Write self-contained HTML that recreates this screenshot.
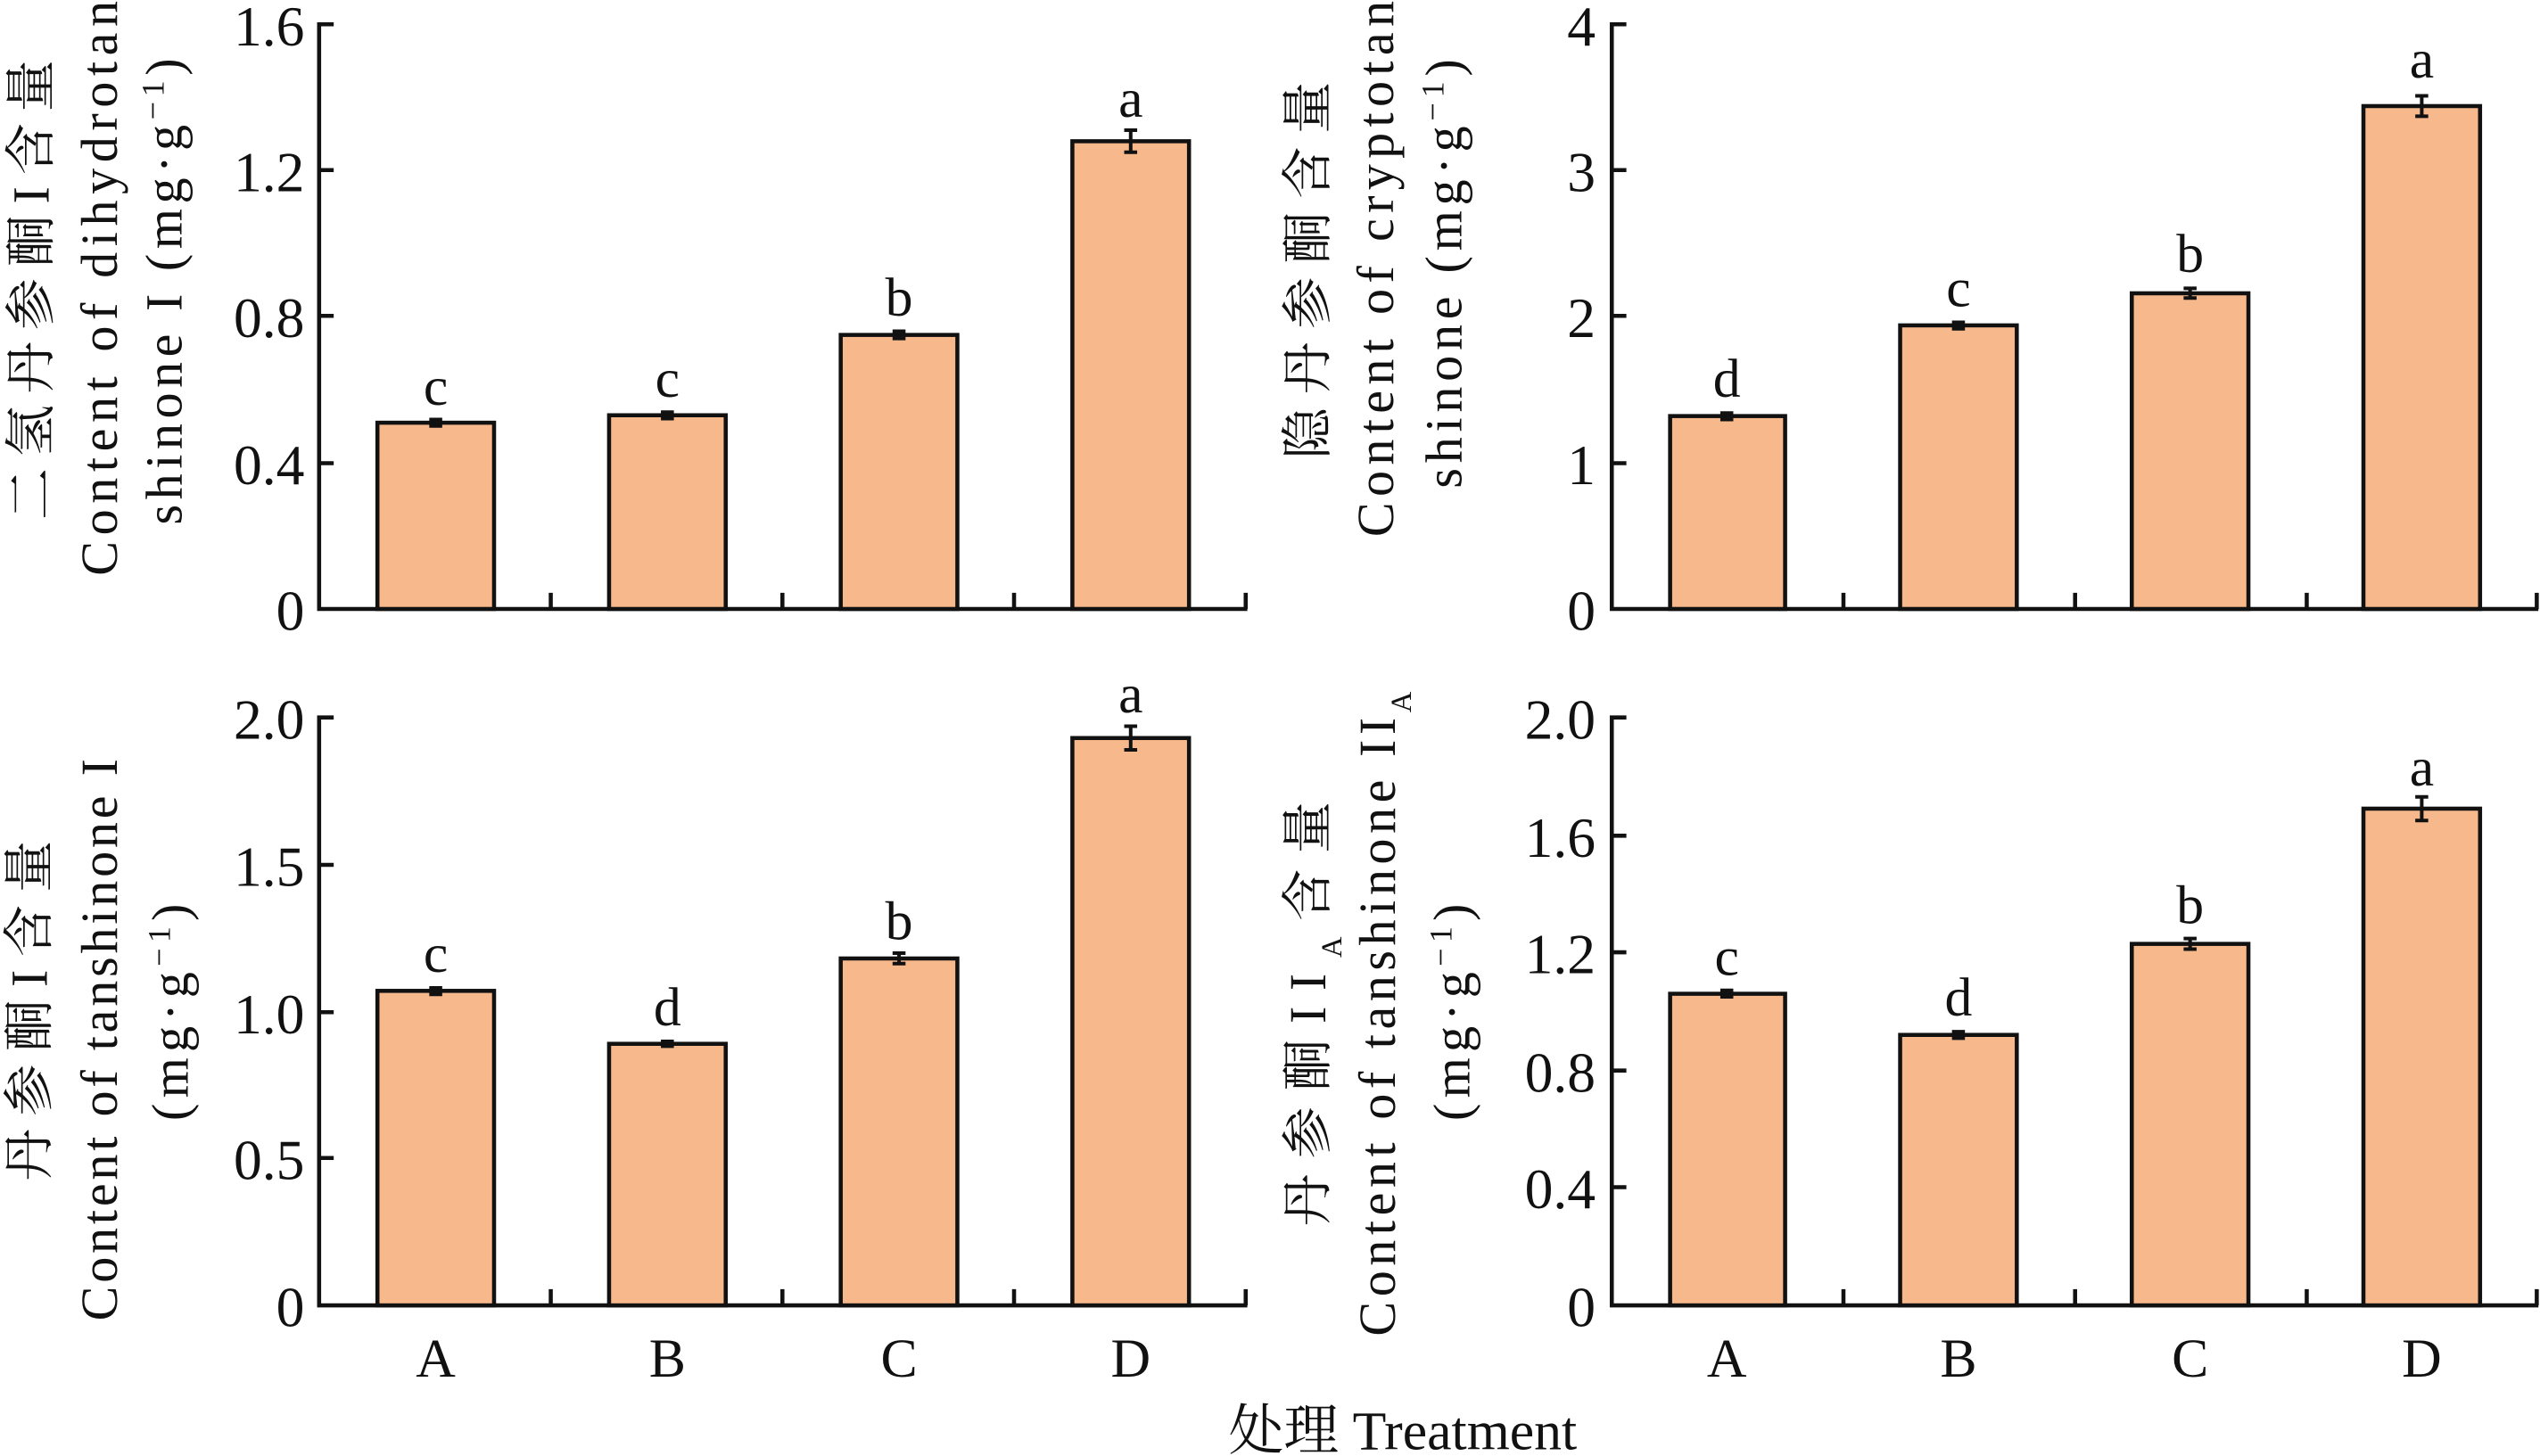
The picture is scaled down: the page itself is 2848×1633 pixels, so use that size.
<!DOCTYPE html>
<html><head><meta charset="utf-8"><style>html,body{margin:0;padding:0;background:#fff}svg{display:block}</style></head>
<body>
<svg width="2848" height="1633" viewBox="0 0 1568 899" preserveAspectRatio="none" xmlns="http://www.w3.org/2000/svg" font-family="'Liberation Serif','Noto Serif CJK SC',serif" fill="#111">
<g stroke="#111" stroke-width="2.5" fill="none">
<path d="M206 15H197V376H770M197 105H206M197 195H206M197 286H206M340 376V366M483 376V366M626 376V366M769 376V366"/>
<path d="M1004 15H995V376H1567M995 105H1004M995 195H1004M995 286H1004M1138 376V366M1281 376V366M1424 376V366M1566 376V366"/>
<path d="M206 443H197V806H770M197 534H206M197 625H206M197 715H206M340 806V796M483 806V796M626 806V796M769 806V796"/>
<path d="M1004 443H995V806H1567M995 516H1004M995 588H1004M995 661H1004M995 733H1004M1138 806V796M1281 806V796M1424 806V796M1566 806V796"/>
</g>
<g fill="#f7b98c" stroke="#111" stroke-width="2.5">
<rect x="233" y="261" width="72" height="115"/><rect x="376" y="256.4" width="72" height="119.6"/><rect x="519" y="206.8" width="72" height="169.2"/><rect x="662" y="87.2" width="72" height="288.8"/>
<rect x="1031" y="256.9" width="71" height="119.1"/><rect x="1173" y="200.9" width="72" height="175.1"/><rect x="1316" y="181.1" width="72" height="194.9"/><rect x="1459" y="65.5" width="72" height="310.5"/>
<rect x="233" y="611.8" width="72" height="194.2"/><rect x="376" y="644.5" width="72" height="161.5"/><rect x="519" y="591.8" width="72" height="214.2"/><rect x="662" y="455.7" width="72" height="350.3"/>
<rect x="1031" y="613.6" width="71" height="192.4"/><rect x="1173" y="639" width="72" height="167"/><rect x="1316" y="582.8" width="72" height="223.2"/><rect x="1459" y="499.3" width="72" height="306.7"/>
</g>
<g stroke="#111" stroke-width="2.2">
<path d="M265 259h8M265 263h8M269 259V263M408 254.5h8M408 258.5h8M412 254.5V258.5M551 204.5h8M551 209h8M555 204.5V209M694 80.4h8M694 94h8M698 80.4V94"/>
<path d="M1062 255h8M1062 259h8M1066 255V259M1205 199h8M1205 203h8M1209 199V203M1348 178h8M1348 184h8M1352 178V184M1491 59.2h8M1491 71.8h8M1495 59.2V71.8"/>
<path d="M265 610h8M265 614h8M269 610V614M408 643h8M408 646h8M412 643V646M551 588.5h8M551 595h8M555 588.5V595M694 448.4h8M694 463h8M698 448.4V463"/>
<path d="M1062 611.5h8M1062 615.5h8M1066 611.5V615.5M1205 637h8M1205 641h8M1209 637V641M1348 579.5h8M1348 586h8M1352 579.5V586M1491 492h8M1491 506.6h8M1495 492V506.6"/>
</g>
<g font-size="35" text-anchor="end">
<text x="188" y="28">1.6</text><text x="188" y="118">1.2</text><text x="188" y="208">0.8</text><text x="188" y="299">0.4</text><text x="188" y="389">0</text>
<text x="985" y="28">4</text><text x="985" y="118">3</text><text x="985" y="208">2</text><text x="985" y="299">1</text><text x="985" y="389">0</text>
<text x="188" y="456">2.0</text><text x="188" y="547">1.5</text><text x="188" y="638">1.0</text><text x="188" y="728">0.5</text><text x="188" y="819">0</text>
<text x="985" y="456">2.0</text><text x="985" y="529">1.6</text><text x="985" y="601">1.2</text><text x="985" y="674">0.8</text><text x="985" y="746">0.4</text><text x="985" y="819">0</text>
</g>
<g font-size="34" text-anchor="middle">
<text x="269" y="250">c</text><text x="412" y="245">c</text><text x="555" y="195">b</text><text x="698" y="72">a</text>
<text x="1066" y="245">d</text><text x="1209" y="189">c</text><text x="1352" y="168">b</text><text x="1495" y="48">a</text>
<text x="269" y="600">c</text><text x="412" y="633">d</text><text x="555" y="580">b</text><text x="698" y="440">a</text>
<text x="1066" y="602">c</text><text x="1209" y="627">d</text><text x="1352" y="570">b</text><text x="1495" y="485">a</text>
<text x="269" y="850">A</text><text x="412" y="850">B</text><text x="555" y="850">C</text><text x="698" y="850">D</text>
<text x="1066" y="850">A</text><text x="1209" y="850">B</text><text x="1352" y="850">C</text><text x="1495" y="850">D</text>
<text x="866" y="895">处理 Treatment</text>
</g>
<g font-size="32" text-anchor="middle">
<text transform="translate(30,179) rotate(-90)" textLength="284" lengthAdjust="spacing">二氢丹参酮I含量</text>
<text transform="translate(72,178) rotate(-90)" textLength="355" lengthAdjust="spacing">Content of dihydrotan</text>
<text transform="translate(112,180) rotate(-90)" textLength="288" lengthAdjust="spacing">shinone I (mg·g<tspan font-size="20" baseline-shift="super">−1</tspan>)</text>

<text transform="translate(818,167) rotate(-90)" textLength="233" lengthAdjust="spacing">隐丹参酮含量</text>
<text transform="translate(860,166) rotate(-90)" textLength="331" lengthAdjust="spacing">Content of cryptotan</text>
<text transform="translate(902,169) rotate(-90)" textLength="265" lengthAdjust="spacing">shinone (mg·g<tspan font-size="20" baseline-shift="super">−1</tspan>)</text>

<text transform="translate(29,624) rotate(-90)" textLength="210" lengthAdjust="spacing">丹参酮I含量</text>
<text transform="translate(72,642) rotate(-90)" textLength="347" lengthAdjust="spacing">Content of tanshinone I</text>
<text transform="translate(116,625) rotate(-90)" textLength="134" lengthAdjust="spacing">(mg·g<tspan font-size="20" baseline-shift="super">−1</tspan>)</text>

<text transform="translate(818,626) rotate(-90)" textLength="262" lengthAdjust="spacing">丹参酮II<tspan font-size="18" baseline-shift="sub">A</tspan>含量</text>
<text transform="translate(861,626) rotate(-90)" textLength="398" lengthAdjust="spacing">Content of tanshinone II<tspan font-size="18" baseline-shift="sub">A</tspan></text>
<text transform="translate(907,625) rotate(-90)" textLength="134" lengthAdjust="spacing">(mg·g<tspan font-size="20" baseline-shift="super">−1</tspan>)</text>
</g>
</svg>
</body></html>
